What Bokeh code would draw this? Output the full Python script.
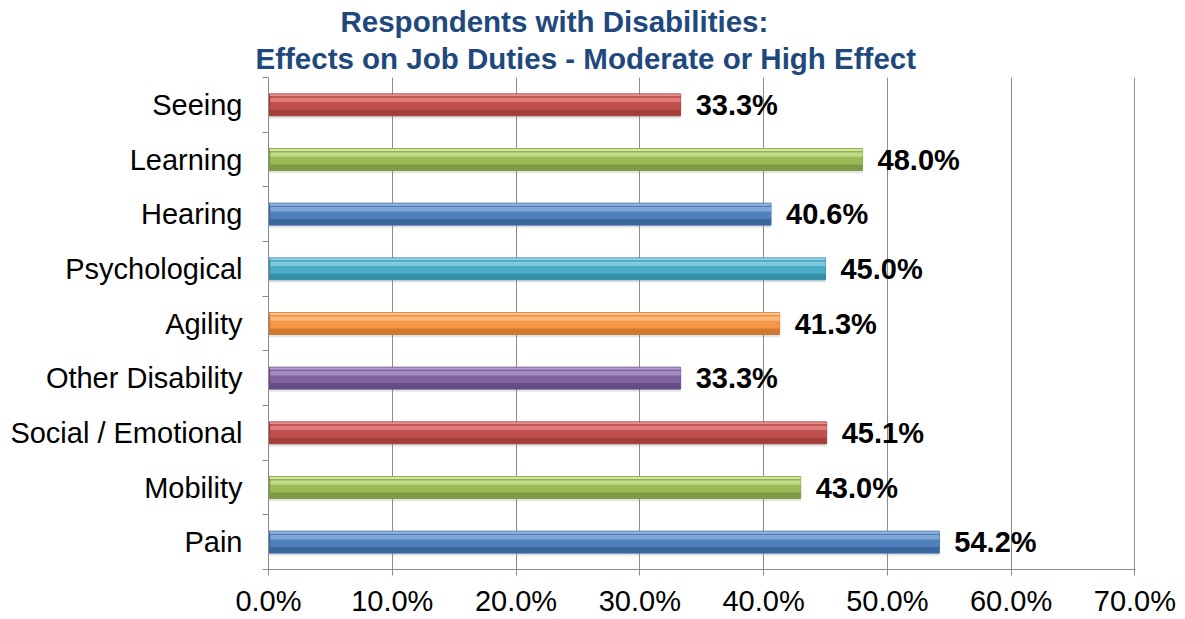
from bokeh.plotting import figure
from bokeh.models import ColumnDataSource, FixedTicker, Title, PrintfTickFormatter, Range1d
from bokeh.core.properties import value
from bokeh.embed import file_html
from bokeh.resources import INLINE

# Categories listed bottom to top
categories = ["Pain", "Mobility", "Social / Emotional", "Other Disability", "Agility",
              "Psychological", "Hearing", "Learning", "Seeing"]
percent = [54.2, 43.0, 45.1, 33.3, 41.3, 45.0, 40.6, 48.0, 33.3]
x_ticks = [0, 10, 20, 30, 40, 50, 60, 70]
title_lines = ["Respondents with Disabilities:",
               "Effects on Job Duties - Moderate or High Effect"]

# colour families: (dark, mid, light)
palette = {
    "blue":   ("#3A679E", "#4F81BD", "#93B8E4"),
    "green":  ("#7E9A45", "#9BBB59", "#CFE69C"),
    "red":    ("#A23E3B", "#C0504D", "#EC8F8D"),
    "purple": ("#644C85", "#8064A2", "#B39DCE"),
    "orange": ("#D0782E", "#F79646", "#FCC590"),
    "aqua":   ("#338EA8", "#4BACC6", "#93D6E8"),
}
bar_family = ["blue", "green", "red", "purple", "orange", "aqua", "blue", "green", "red"]

FONT = "Liberation Sans"
ypos = [i + 0.5 for i in range(len(categories))]

src = ColumnDataSource(dict(
    y=ypos,
    val=percent,
    dark=[palette[f][0] for f in bar_family],
    mid=[palette[f][1] for f in bar_family],
    light=[palette[f][2] for f in bar_family],
    label=[f"{v:.1f}%" for v in percent],
    shadow_y=[y - 0.05 for y in ypos],
    mid_y=[y + 0.03 for y in ypos],
    hi_y=[y + 0.09 for y in ypos],
    top_y=[y + 0.175 for y in ypos],
))

p = figure(width=1185, height=619, output_backend="svg", toolbar_location=None,
           x_range=Range1d(0, 70.05), y_range=Range1d(0, 9),
           min_border_left=268, min_border_right=50, min_border_top=77, min_border_bottom=48)
p.outline_line_color = None
p.background_fill_color = "white"
p.border_fill_color = "white"

# soft drop shadow under each bar
p.hbar(y="shadow_y", left=0, right="val", height=0.40, source=src,
       fill_color="#7F7F7F", fill_alpha=0.22, line_color=None)
# bevelled bar body built from stacked bands
p.hbar(y="y", left=0, right="val", height=0.40, source=src,
       fill_color="dark", line_color="dark", line_width=1)
p.hbar(y="mid_y", left=0.15, right="val", height=0.24, source=src,
       fill_color="mid", line_color=None)
p.hbar(y="hi_y", left=0.15, right="val", height=0.08, source=src,
       fill_color="light", fill_alpha=0.7, line_color=None)
p.hbar(y="top_y", left=0.1, right="val", height=0.04, source=src,
       fill_color="light", line_color=None)

p.text(x="val", y="y", text="label", source=src, x_offset=15,
       text_font=value(FONT), text_font_style="bold", text_font_size="29px",
       text_baseline="middle", text_align="left", text_color="black")

# x axis: percentages
p.xaxis.ticker = FixedTicker(ticks=x_ticks)
p.xaxis.formatter = PrintfTickFormatter(format="%.1f%%")
p.xaxis.major_label_text_font = FONT
p.xaxis.major_label_text_font_size = "29px"
p.xaxis.major_label_text_color = "black"
p.xaxis.major_label_standoff = 9
p.xaxis.axis_line_color = "#8C8C8C"
p.xaxis.major_tick_line_color = "#8C8C8C"
p.xaxis.major_tick_out = 6
p.xaxis.major_tick_in = 0
p.xaxis.minor_tick_line_color = None

# y axis: category names at band centres, ticks at band boundaries
p.yaxis.ticker = FixedTicker(ticks=ypos, minor_ticks=list(range(len(categories) + 1)))
p.yaxis.major_label_overrides = {y: c for y, c in zip(ypos, categories)}
p.yaxis.major_label_text_font = FONT
p.yaxis.major_label_text_font_size = "29px"
p.yaxis.major_label_text_color = "black"
p.yaxis.major_label_standoff = 20
p.yaxis.major_tick_line_color = None
p.yaxis.major_tick_out = 0
p.yaxis.major_tick_in = 0
p.yaxis.minor_tick_line_color = "#8C8C8C"
p.yaxis.minor_tick_out = 6
p.yaxis.minor_tick_in = 0
p.yaxis.axis_line_color = "#8C8C8C"

p.xgrid.ticker = FixedTicker(ticks=x_ticks)
p.xgrid.grid_line_color = "#8C8C8C"
p.xgrid.grid_line_width = 1
p.ygrid.grid_line_color = None

# two-line title; the lower line is added first so it sits next to the plot
for text, off, gap in [(title_lines[1], -13, 5), (title_lines[0], 72, 0)]:
    p.add_layout(Title(text=text, align="left", offset=off, text_font=FONT,
                       text_font_style="bold", text_font_size="29.5px",
                       text_color="#1F497D", standoff=gap), "above")

open("out.html", "w").write(file_html(p, INLINE))
